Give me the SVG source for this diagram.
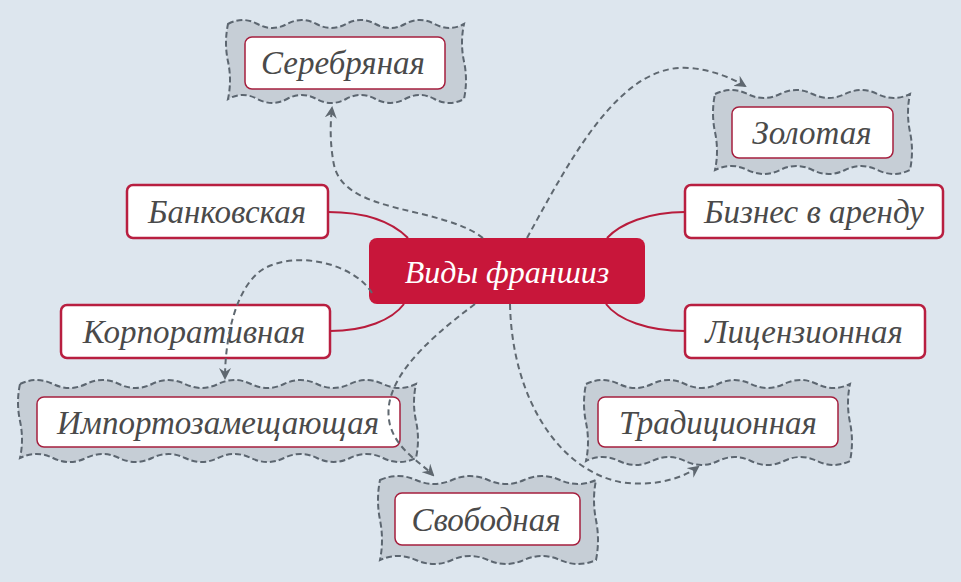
<svg xmlns="http://www.w3.org/2000/svg" width="961" height="582" viewBox="0 0 961 582">
<defs>
<style>
.bg{fill:#dde6ee}
.wave{fill:#c6ced6;stroke:#5c6670;stroke-width:2;stroke-dasharray:6 3}
.inner{fill:#ffffff;stroke:#a51f3e;stroke-width:1.5}
.solid{fill:#ffffff;stroke:#b81f40;stroke-width:2.5}
.center{fill:#c8163a}
.t{font-family:"Liberation Serif","DejaVu Serif",serif;font-style:italic;font-size:33px;fill:#4a4a4a;text-anchor:middle;dominant-baseline:central}
.tc{font-family:"Liberation Serif","DejaVu Serif",serif;font-style:italic;font-size:32px;fill:#ffffff;text-anchor:middle;dominant-baseline:central}
.red{fill:none;stroke:#b81c3c;stroke-width:2}
.dash{fill:none;stroke:#5f6870;stroke-width:2;stroke-dasharray:6 4;marker-end:url(#arr)}
</style>
<marker id="arr" viewBox="0 0 12 12" refX="10" refY="6" markerWidth="12" markerHeight="12" markerUnits="userSpaceOnUse" orient="auto">
<path d="M0,0 L12,6 L0,12 L4,6 z" fill="#5f6870"/>
</marker>
</defs>
<rect class="bg" x="0" y="0" width="961" height="582"/>

<g id="node-serebryanaya">
<path class="wave" d="M228,24 q14.75,-8 29.5,0 t29.5,0 t29.5,0 t29.5,0 t29.5,0 t29.5,0 t29.5,0 t29.5,0 q-4,19 0,37.5 t0,37.5 q-14.75,8 -29.5,0 t-29.5,0 t-29.5,0 t-29.5,0 t-29.5,0 t-29.5,0 t-29.5,0 t-29.5,0 q4,-19 0,-37.5 t0,-37.5 z"/>
<rect class="inner" x="245" y="37" width="200" height="52" rx="7"/>
<text class="t" x="343" y="63">Серебряная</text>
</g>

<g id="node-zolotaya">
<path class="wave" d="M715,94 q16.25,-8 32.5,0 t32.5,0 t32.5,0 t32.5,0 t32.5,0 t32.5,0 q-4,19 0,38 t0,38 q-16.25,8 -32.5,0 t-32.5,0 t-32.5,0 t-32.5,0 t-32.5,0 t-32.5,0 q4,-19 0,-38 t0,-38 z"/>
<rect class="inner" x="732" y="107" width="161" height="51" rx="7"/>
<text class="t" x="812" y="133">Золотая</text>
</g>

<g id="node-importo">
<path class="wave" d="M20,384 q16.5,-8 33,0 t33,0 t33,0 t33,0 t33,0 t33,0 t33,0 t33,0 t33,0 t33,0 t33,0 t33,0 q-4,18.5 0,37 t0,37 q-16.5,8 -33,0 t-33,0 t-33,0 t-33,0 t-33,0 t-33,0 t-33,0 t-33,0 t-33,0 t-33,0 t-33,0 t-33,0 q4,-18.5 0,-37 t0,-37 z"/>
<rect class="inner" x="37" y="397" width="363" height="50" rx="7"/>
<text class="t" x="218" y="423">Импортозамещающая</text>
</g>

<g id="node-svobodnaya">
<path class="wave" d="M380,480 q18,-8 36,0 t36,0 t36,0 t36,0 t36,0 t36,0 q-4,20 0,40 t0,40 q-18,8 -36,0 t-36,0 t-36,0 t-36,0 t-36,0 t-36,0 q4,-20 0,-40 t0,-40 z"/>
<rect class="inner" x="395" y="493" width="185" height="52" rx="7"/>
<text class="t" x="486" y="520">Свободная</text>
</g>

<g id="node-traditsionnaya">
<path class="wave" d="M586,384 q16.5,-8 33,0 t33,0 t33,0 t33,0 t33,0 t33,0 t33,0 t33,0 q-4,19.25 0,38.5 t0,38.5 q-16.5,8 -33,0 t-33,0 t-33,0 t-33,0 t-33,0 t-33,0 t-33,0 t-33,0 q4,-19.25 0,-38.5 t0,-38.5 z"/>
<rect class="inner" x="598" y="397" width="240" height="50" rx="7"/>
<text class="t" x="718" y="423">Традиционная</text>
</g>

<g id="node-bankovskaya">
<rect class="solid" x="127" y="185" width="201" height="53" rx="6"/>
<text class="t" x="227" y="212">Банковская</text>
</g>

<g id="node-korporativnaya">
<rect class="solid" x="61" y="305" width="269" height="53" rx="6"/>
<text class="t" x="194" y="332">Корпоративная</text>
</g>

<g id="node-biznes">
<rect class="solid" x="685" y="185" width="258" height="53" rx="6"/>
<text class="t" x="814" y="212">Бизнес в аренду</text>
</g>

<g id="node-litsenzionnaya">
<rect class="solid" x="685" y="305" width="240" height="53" rx="6"/>
<text class="t" x="804" y="332">Лицензионная</text>
</g>

<g id="node-center">
<rect class="center" x="369" y="238" width="276" height="66" rx="8"/>
<text class="tc" x="507" y="272">Виды франшиз</text>
</g>

<g id="connectors">
<path class="red" d="M328,212 C365,212 392,222 408,238"/>
<path class="red" d="M330,331 C365,331 392,320 404,304"/>
<path class="red" d="M685,212 C648,212 620,224 607,238"/>
<path class="red" d="M685,331 C648,331 618,320 606,304"/>
<path class="dash" d="M483,238 C440,205 345,215 334,165 C330,145 330,125 332,108"/>
<path class="dash" d="M527,238 C570,160 620,62 690,68 C712,70 732,78 745,86"/>
<path class="dash" d="M372,293 C355,265 300,250 265,268 C235,285 225,340 225,378"/>
<path class="dash" d="M475,304 C420,345 380,385 390,425 C397,450 420,462 433,475"/>
<path class="dash" d="M510,304 C512,400 560,470 620,482 C650,487 680,480 698,467"/>
</g>
</svg>
